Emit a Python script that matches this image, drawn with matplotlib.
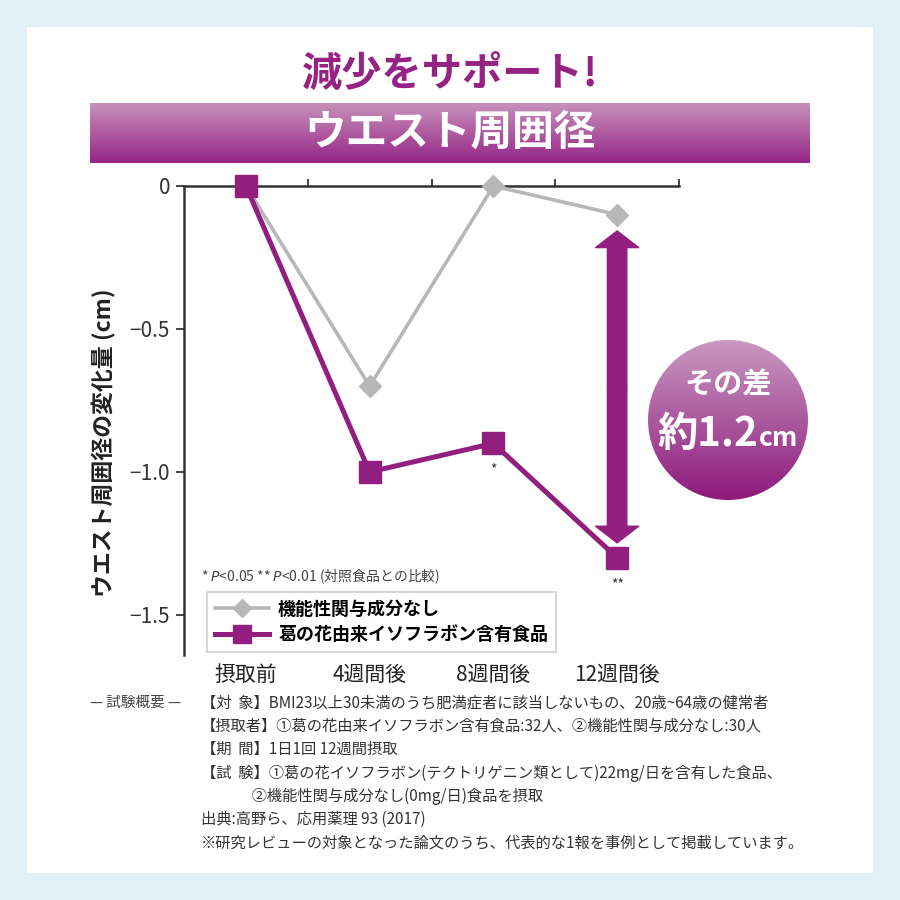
import numpy as np
import matplotlib
matplotlib.use("Agg")
import matplotlib.pyplot as plt
from matplotlib.colors import LinearSegmentedColormap
from matplotlib.patches import Rectangle, Circle

plt.rcParams['font.family'] = ['Noto Sans CJK JP', 'DejaVu Sans']
plt.rcParams['mathtext.fontset'] = 'dejavusans'

# data
categories = ['摂取前', '4週間後', '8週間後', '12週間後']
control = [0, -0.7, 0, -0.1]        # 機能性関与成分なし
kudzu = [0, -1.0, -0.9, -1.3]       # 葛の花由来イソフラボン含有食品
yticks = [0, -0.5, -1.0, -1.5]
ytick_labels = ['0', '−0.5', '−1.0', '−1.5']
notes = [
    '【対  象】BMI23以上30未満のうち肥満症者に該当しないもの、20歳~64歳の健常者',
    '【摂取者】①葛の花由来イソフラボン含有食品:32人、②機能性関与成分なし:30人',
    '【期  間】1日1回 12週間摂取',
    '【試  験】①葛の花イソフラボン(テクトリゲニン類として)22mg/日を含有した食品、',
    '               ②機能性関与成分なし(0mg/日)食品を摂取',
    '出典:高野ら、応用薬理 93 (2017)',
    '※研究レビューの対象となった論文のうち、代表的な1報を事例として掲載しています。',
]

PURPLE = '#921f80'
GRAY = '#b7b7b7'
W = H = 900.0

fig = plt.figure(figsize=(9, 9), dpi=100, facecolor='#e4f0f7')
fig.patches.append(Rectangle((27 / W, 27 / H), 846 / W, 846 / H, transform=fig.transFigure,
                             facecolor='white', edgecolor='none', zorder=-5))

def px(x, y):
    return x / W, 1 - y / H

# title
fig.text(*px(450, 74), '減少をサポート!', color='#962384', fontsize=29, fontweight='bold',
         ha='center', va='center')

# gradient banner
grad_cmap = LinearSegmentedColormap.from_list('g', ['#c790ba', '#962587'])
bax = fig.add_axes([90 / W, 1 - 163 / H, 720 / W, 60 / H])
bax.imshow(np.linspace(0, 1, 100).reshape(-1, 1), cmap=grad_cmap, aspect='auto',
           extent=(0, 1, 0, 1))
bax.axis('off')
bax.text(0.5, 0.5, 'ウエスト周囲径', color='white', fontsize=30, fontweight='bold',
         ha='center', va='center', transform=bax.transAxes)

# main chart
ax = fig.add_axes([184 / W, 1 - 655 / H, 495 / W, 469 / H])
ax.set_facecolor('none')
x = np.arange(len(categories))
ax.plot(x, control, color=GRAY, lw=2.6, marker='D', markersize=11, clip_on=False,
        zorder=3, label='機能性関与成分なし')
ax.plot(x, kudzu, color=PURPLE, lw=3.6, marker='s', markersize=16, clip_on=False,
        zorder=4, label='葛の花由来イソフラボン含有食品')

ax.set_xlim(-0.5, 3.5)
ax.set_ylim(-1.64, 0)
for s in ['bottom', 'right']:
    ax.spines[s].set_visible(False)
ax.spines['top'].set_linewidth(1.8)
ax.spines['left'].set_linewidth(1.8)
ax.spines['top'].set_color('#333333')
ax.spines['left'].set_color('#333333')

ax.set_xticks(x, categories)
ax.set_xticks(x + 0.5, minor=True)
ax.tick_params(axis='x', which='major', bottom=False, top=False, labelsize=15,
               pad=3, labelcolor='#222222')
ax.tick_params(axis='x', which='minor', bottom=False, top=True, direction='out',
               length=5, width=1.3, color='#333333')
ax.set_yticks(yticks, ytick_labels)
ax.tick_params(axis='y', length=6, width=1.3, color='#333333', labelsize=15,
               labelcolor='#333333', pad=4)

# significance marks
ax.annotate('*', (2, kudzu[2]), xytext=(0, -14), textcoords='offset points',
            ha='center', va='top', fontsize=10, color='#333333')
ax.annotate('**', (3, kudzu[3]), xytext=(0, -14), textcoords='offset points',
            ha='center', va='top', fontsize=10, color='#333333')

# double arrow showing the difference
top_y = control[3] - 0.057
bot_y = kudzu[3] + 0.052
mid_y = (top_y + bot_y) / 2
for end in (top_y, bot_y):
    ax.annotate('', xy=(3, end), xytext=(3, mid_y),
                arrowprops=dict(arrowstyle='simple,head_length=12,head_width=31,tail_width=14',
                                mutation_scale=1, color=PURPLE, shrinkA=0, shrinkB=0),
                zorder=5)

ax.text(0.035, 0.166, r'* $\mathit{P}$<0.05 ** $\mathit{P}$<0.01 (対照食品との比較)',
        transform=ax.transAxes, fontsize=10, color='#444444', ha='left', va='center')

leg = ax.legend(loc='lower left', bbox_to_anchor=(0.046, 0.006), borderaxespad=0,
                fancybox=False, edgecolor='#cfcfcf', framealpha=1, handlelength=3.0,
                handletextpad=0.5, labelspacing=0.35, borderpad=0.45, markerscale=0.8,
                prop={'size': 13, 'weight': 'bold'})
leg.get_frame().set_linewidth(1.2)

fig.text(*px(104, 443), 'ウエスト周囲径の変化量 (cm)', rotation=90, fontsize=16.5,
         fontweight='bold', color='#222222', ha='center', va='center')

# gradient circle
cax = fig.add_axes([648 / W, 1 - 500 / H, 160 / W, 160 / H])
cax.set_xlim(-1, 1)
cax.set_ylim(-1, 1)
cax.axis('off')
circ_cmap = LinearSegmentedColormap.from_list('c', ['#c898c0', '#8e1b7c'])
im = cax.imshow(np.linspace(0, 1, 100).reshape(-1, 1), cmap=circ_cmap, aspect='auto',
                extent=(-1, 1, -1, 1))
im.set_clip_path(Circle((0, 0), 1, transform=cax.transData))
cax.text(0, 0.44, 'その差', color='white', fontsize=21, fontweight='bold',
         ha='center', va='center')
cax.text(0.37, -0.32, '約1.2', color='white', fontsize=29, fontweight='bold',
         ha='right', va='baseline')
cax.text(0.39, -0.32, 'cm', color='white', fontsize=19, fontweight='bold',
         ha='left', va='baseline')

# study summary
fig.text(*px(90, 703), '— 試験概要 —', fontsize=10.5, color='#444444', ha='left', va='center')
for i, line in enumerate(notes):
    fig.text(*px(201, 703 + i * 23.3), line, fontsize=11, color='#333333',
             ha='left', va='center')

fig.savefig('out.png', dpi=100, facecolor=fig.get_facecolor())
